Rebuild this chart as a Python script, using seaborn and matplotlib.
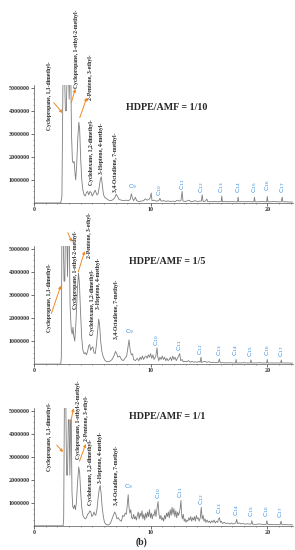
"""
Py-GC/MS chromatograms of HDPE/AMF co-pyrolysis at three blend ratios.
"""

import matplotlib
matplotlib.use('Agg')
import matplotlib.pyplot as plt
import numpy as np
import pandas as pd
import seaborn as sns
from matplotlib.ticker import FixedLocator, FuncFormatter, MultipleLocator

# ---- data (retention time in min, abundance in millions) ----
ratios = ['1/10', '1/5', '1/1']

trace_1_10 = [
    (0.0, 0.0), (2.3, 0.0), (2.4, 0.3), (2.45, 3.0), (2.5, 6.0), (2.6, 6.0), (2.7, 4.0), (2.78, 4.0),
    (2.85, 6.0), (2.95, 6.0), (3.02, 4.5), (3.08, 6.0), (3.15, 6.0), (3.22, 3.0), (3.3, 1.8), (3.38, 1.74),
    (3.45, 1.8), (3.52, 1.3), (3.58, 1.0), (3.66, 1.6), (3.76, 2.8), (3.85, 3.5), (3.92, 3.2), (4.0, 2.0),
    (4.1, 1.0), (4.2, 0.55), (4.3, 0.35), (4.4, 0.3), (4.5, 0.45), (4.6, 0.5), (4.7, 0.35), (4.8, 0.5),
    (4.9, 0.45), (5.0, 0.3), (5.1, 0.4), (5.25, 0.55), (5.4, 0.35), (5.5, 0.4), (5.6, 0.7), (5.7, 1.05),
    (5.78, 1.13), (5.86, 0.8), (5.95, 0.4), (6.05, 0.25), (6.2, 0.2), (6.4, 0.12), (6.6, 0.1), (6.8, 0.15),
    (6.95, 0.25), (7.05, 0.38), (7.15, 0.3), (7.3, 0.15), (7.5, 0.12), (7.7, 0.1), (7.9, 0.12), (8.1, 0.1),
    (8.25, 0.15), (8.35, 0.4), (8.45, 0.2), (8.55, 0.1), (8.7, 0.25), (8.8, 0.1), (9.0, 0.06), (9.2, 0.08),
    (9.4, 0.1), (9.55, 0.18), (9.7, 0.12), (9.85, 0.15), (9.95, 0.2), (10.05, 0.43), (10.12, 0.1),
    (10.3, 0.12), (10.5, 0.08), (10.7, 0.1), (10.8, 0.2), (10.9, 0.08), (11.1, 0.1), (11.3, 0.07),
    (11.5, 0.09), (11.7, 0.06), (11.9, 0.08), (12.1, 0.06), (12.3, 0.12), (12.45, 0.08), (12.6, 0.1),
    (12.7, 0.5), (12.78, 0.08), (12.95, 0.07), (13.1, 0.08), (13.3, 0.12), (13.45, 0.05), (13.6, 0.06),
    (13.8, 0.1), (14.0, 0.06), (14.2, 0.08), (14.35, 0.08), (14.42, 0.35), (14.5, 0.06), (14.7, 0.08),
    (14.82, 0.17), (14.9, 0.05), (15.1, 0.06), (15.3, 0.05), (15.5, 0.07), (15.7, 0.05), (15.9, 0.06),
    (16.05, 0.06), (16.1, 0.3), (16.16, 0.05), (16.4, 0.06), (16.7, 0.05), (17.0, 0.06), (17.3, 0.05),
    (17.45, 0.05), (17.5, 0.25), (17.56, 0.05), (17.8, 0.06), (18.1, 0.05), (18.4, 0.06), (18.6, 0.05),
    (18.85, 0.05), (18.9, 0.25), (18.96, 0.05), (19.2, 0.05), (19.5, 0.06), (19.8, 0.05), (19.95, 0.05),
    (20.0, 0.28), (20.06, 0.05), (20.3, 0.05), (20.6, 0.06), (20.9, 0.05), (21.2, 0.05), (21.28, 0.25),
    (21.34, 0.05), (21.6, 0.05), (21.9, 0.04), (22.2, 0.04),
]

trace_1_5 = [
    (0.0, 0.0), (2.3, 0.0), (2.35, 0.3), (2.4, 6.0), (2.5, 6.0), (2.58, 3.6), (2.65, 3.6), (2.7, 6.0),
    (2.8, 6.0), (2.88, 3.8), (2.95, 6.0), (3.02, 6.0), (3.1, 2.5), (3.2, 1.5), (3.28, 1.3), (3.35, 1.6),
    (3.42, 1.2), (3.5, 1.0), (3.6, 1.8), (3.72, 3.2), (3.82, 3.95), (3.9, 3.5), (4.0, 2.2), (4.1, 1.1),
    (4.2, 0.6), (4.3, 0.45), (4.4, 0.5), (4.5, 0.4), (4.6, 0.55), (4.7, 0.8), (4.78, 0.85), (4.86, 0.6),
    (4.95, 0.7), (5.05, 0.75), (5.15, 0.5), (5.25, 0.45), (5.35, 0.8), (5.45, 1.4), (5.55, 1.95),
    (5.63, 1.7), (5.72, 1.0), (5.82, 0.55), (5.95, 0.3), (6.1, 0.15), (6.3, 0.1), (6.5, 0.12), (6.7, 0.2),
    (6.85, 0.35), (7.0, 0.55), (7.1, 0.45), (7.2, 0.3), (7.35, 0.35), (7.5, 0.2), (7.65, 0.15), (7.8, 0.25),
    (7.95, 0.35), (8.05, 0.7), (8.15, 1.05), (8.25, 0.6), (8.35, 0.4), (8.45, 0.45), (8.55, 0.2),
    (8.7, 0.15), (8.85, 0.25), (9.0, 0.15), (9.1, 0.3), (9.2, 0.2), (9.3, 0.35), (9.4, 0.2), (9.5, 0.3),
    (9.6, 0.35), (9.7, 0.25), (9.8, 0.4), (9.9, 0.3), (10.0, 0.45), (10.1, 0.25), (10.2, 0.4), (10.3, 0.2),
    (10.45, 0.35), (10.55, 0.7), (10.62, 0.3), (10.7, 0.15), (10.8, 0.3), (10.9, 0.2), (11.0, 0.35),
    (11.1, 0.2), (11.2, 0.3), (11.3, 0.15), (11.4, 0.25), (11.5, 0.15), (11.6, 0.2), (11.7, 0.3),
    (11.8, 0.15), (11.9, 0.35), (12.0, 0.2), (12.1, 0.3), (12.2, 0.15), (12.3, 0.25), (12.4, 0.35),
    (12.5, 0.45), (12.58, 0.15), (12.7, 0.2), (12.8, 0.1), (12.95, 0.12), (13.1, 0.1), (13.25, 0.15),
    (13.4, 0.08), (13.55, 0.12), (13.7, 0.08), (13.85, 0.1), (14.0, 0.08), (14.15, 0.12), (14.25, 0.08),
    (14.32, 0.3), (14.38, 0.07), (14.5, 0.1), (14.65, 0.12), (14.8, 0.08), (15.0, 0.1), (15.2, 0.07),
    (15.4, 0.08), (15.6, 0.06), (15.8, 0.07), (15.9, 0.22), (15.96, 0.06), (16.2, 0.06), (16.5, 0.05),
    (16.8, 0.06), (17.1, 0.05), (17.28, 0.05), (17.33, 0.2), (17.38, 0.05), (17.7, 0.05), (18.0, 0.06),
    (18.3, 0.05), (18.55, 0.05), (18.6, 0.18), (18.65, 0.05), (19.0, 0.05), (19.3, 0.06), (19.6, 0.05),
    (19.95, 0.05), (20.0, 0.2), (20.05, 0.05), (20.4, 0.05), (20.8, 0.05), (21.15, 0.05), (21.2, 0.18),
    (21.25, 0.05), (21.6, 0.05), (22.2, 0.04),
]

trace_1_1 = [
    (0.0, 0.0), (2.5, 0.0), (2.55, 0.3), (2.62, 6.0), (2.72, 6.0), (2.8, 2.2), (2.88, 2.2), (2.95, 4.6),
    (3.02, 4.6), (3.08, 2.2), (3.15, 4.6), (3.2, 4.6), (3.26, 1.5), (3.32, 0.85), (3.4, 0.75), (3.48, 0.9),
    (3.56, 0.7), (3.64, 1.0), (3.74, 1.9), (3.84, 2.55), (3.92, 2.3), (4.0, 1.5), (4.1, 0.8), (4.2, 0.45),
    (4.3, 0.35), (4.4, 0.3), (4.5, 0.35), (4.6, 0.5), (4.7, 0.55), (4.8, 0.65), (4.88, 0.6), (4.96, 0.4),
    (5.05, 0.45), (5.15, 0.6), (5.22, 0.5), (5.3, 0.45), (5.4, 0.7), (5.5, 1.2), (5.6, 1.6), (5.68, 1.75),
    (5.76, 1.4), (5.85, 0.8), (5.95, 0.4), (6.05, 0.15), (6.2, 0.05), (6.4, 0.04), (6.55, 0.1), (6.7, 0.3),
    (6.82, 0.45), (6.92, 0.6), (7.02, 0.5), (7.12, 0.3), (7.22, 0.35), (7.35, 0.25), (7.5, 0.2),
    (7.62, 0.45), (7.72, 0.4), (7.82, 0.55), (7.92, 0.5), (8.0, 0.9), (8.08, 1.35), (8.15, 0.8),
    (8.22, 0.55), (8.3, 0.7), (8.38, 0.35), (8.46, 0.3), (8.55, 0.5), (8.62, 0.3), (8.7, 0.4), (8.78, 0.25),
    (8.86, 0.45), (8.94, 0.6), (9.02, 0.3), (9.1, 0.55), (9.18, 0.4), (9.26, 0.65), (9.34, 0.3),
    (9.42, 0.5), (9.5, 0.25), (9.58, 0.55), (9.66, 0.35), (9.74, 0.6), (9.82, 0.4), (9.9, 0.7),
    (9.98, 0.35), (10.06, 0.55), (10.14, 0.3), (10.22, 0.5), (10.3, 0.45), (10.38, 0.7), (10.46, 0.4),
    (10.56, 0.8), (10.64, 1.05), (10.72, 0.5), (10.8, 0.3), (10.88, 0.45), (10.96, 0.25), (11.04, 0.35),
    (11.12, 0.2), (11.2, 0.45), (11.28, 0.3), (11.36, 0.55), (11.44, 0.4), (11.52, 0.6), (11.6, 0.35),
    (11.68, 0.7), (11.76, 0.45), (11.84, 0.8), (11.92, 0.5), (12.0, 0.75), (12.08, 0.4), (12.16, 0.65),
    (12.24, 0.35), (12.32, 0.6), (12.4, 0.45), (12.48, 0.6), (12.54, 0.8), (12.6, 1.1), (12.66, 0.5),
    (12.72, 0.3), (12.8, 0.5), (12.88, 0.2), (12.96, 0.3), (13.04, 0.15), (13.12, 0.25), (13.2, 0.2),
    (13.28, 0.35), (13.36, 0.25), (13.44, 0.4), (13.52, 0.2), (13.6, 0.35), (13.68, 0.25), (13.76, 0.4),
    (13.84, 0.2), (13.92, 0.45), (14.0, 0.3), (14.08, 0.35), (14.16, 0.2), (14.26, 0.35), (14.34, 0.8),
    (14.42, 0.3), (14.5, 0.45), (14.58, 0.2), (14.66, 0.3), (14.74, 0.15), (14.84, 0.25), (14.94, 0.15),
    (15.04, 0.2), (15.14, 0.12), (15.24, 0.22), (15.34, 0.15), (15.44, 0.25), (15.54, 0.12), (15.64, 0.2),
    (15.74, 0.15), (15.82, 0.28), (15.9, 0.35), (15.98, 0.15), (16.06, 0.2), (16.16, 0.1), (16.3, 0.15),
    (16.45, 0.1), (16.6, 0.12), (16.75, 0.08), (16.9, 0.12), (17.05, 0.08), (17.2, 0.1), (17.3, 0.12),
    (17.38, 0.28), (17.45, 0.1), (17.6, 0.12), (17.75, 0.08), (17.9, 0.1), (18.1, 0.07), (18.3, 0.09),
    (18.5, 0.07), (18.62, 0.08), (18.68, 0.22), (18.74, 0.07), (19.0, 0.06), (19.3, 0.08), (19.6, 0.06),
    (19.9, 0.06), (19.97, 0.22), (20.03, 0.06), (20.4, 0.06), (20.8, 0.05), (21.1, 0.05), (21.18, 0.2),
    (21.24, 0.05), (21.6, 0.05), (22.2, 0.04),
]

compounds = ['Cyclopropane, 1,1-dimethyl-', 'Cyclopropane, 1-ethyl-2-methyl-', '2-Pentene, 3-ethyl-',
             'Cyclohexane, 1,2-dimethyl-', '3-Heptene, 4-methyl-', '3,4-Octadiene, 7-methyl-']
alkanes = ['C$_9$', 'C$_{10}$', 'C$_{11}$', 'C$_{12}$', 'C$_{13}$', 'C$_{14}$', 'C$_{15}$', 'C$_{16}$',
           'C$_{17}$']
y_ticks = [1, 2, 3, 4, 5]
x_ticks = [0, 10, 20]

# ---- layout: label anchors (time, bottom in millions) and arrows per panel ----
compound_pos = {
    '1/10': [(1.37, 3.15), (3.68, 5.0), (4.87, 4.48), (4.96, 0.78), (5.8, 1.25), (7.0, 0.48)],
    '1/5': [(1.3, 1.4), (3.6, 2.4), (4.8, 4.6), (5.0, 1.26), (5.55, 2.4), (7.1, 1.1)],
    '1/1': [(1.3, 2.36), (3.85, 2.9), (4.5, 3.67), (4.85, 0.92), (5.7, 1.85), (7.1, 0.9)],
}
alkane_pos = {
    '1/10': [(8.4, 0.5), (10.8, 0.28), (12.7, 0.58), (14.4, 0.43), (16.1, 0.43), (17.5, 0.45),
             (18.9, 0.45), (20.0, 0.5), (21.3, 0.45)],
    '1/5': [(8.15, 1.2), (10.55, 0.8), (12.5, 0.55), (14.3, 0.4), (15.9, 0.35), (17.3, 0.35),
            (18.6, 0.3), (20.0, 0.35), (21.2, 0.3)],
    '1/1': [(8.08, 1.5), (10.64, 1.15), (12.6, 1.2), (14.34, 0.9), (15.9, 0.5), (17.38, 0.42),
            (18.68, 0.38), (19.97, 0.38), (21.18, 0.35)],
}
arrows = {
    '1/10': [((1.7, 4.35), (2.45, 3.9)), ((3.2, 4.35), (3.55, 4.95)), ((3.93, 3.7), (4.53, 4.57))],
    '1/5': [((1.5, 2.2), (2.3, 3.4)), ((2.9, 5.7), (3.25, 5.3)), ((3.8, 4.0), (4.35, 4.9))],
    '1/1': [((1.95, 3.5), (2.5, 3.2)), ((3.15, 4.5), (3.4, 5.1)), ((3.9, 2.8), (4.45, 3.55))],
}
title_y = {'1/10': 4.13, '1/5': 4.43, '1/1': 4.74}
panel_bottoms = [0.631, 0.338, 0.044]
traces = {'1/10': trace_1_10, '1/5': trace_1_5, '1/1': trace_1_1}

sns.set_style('ticks')
plt.rcParams['font.family'] = ['Liberation Serif', 'DejaVu Serif']
plt.rcParams['mathtext.default'] = 'regular'

fig = plt.figure(figsize=(2.95, 5.5), dpi=100)
line_color = '#7d7d7d'
arrow_color = '#f08a24'
alkane_color = '#2f8be0'

for ratio, bottom in zip(ratios, panel_bottoms):
    ax = fig.add_axes([0.115, bottom, 0.878, 0.215])
    df = pd.DataFrame(traces[ratio], columns=['time', 'abundance'])
    sns.lineplot(data=df, x='time', y='abundance', ax=ax, color=line_color,
                 linewidth=0.6, estimator=None, sort=False)
    ax.set_xlim(0, 22.2)
    ax.set_ylim(0, 5.13)
    ax.set_xlabel('')
    ax.set_ylabel('')
    sns.despine(ax=ax)
    for side in ['left', 'bottom']:
        ax.spines[side].set_linewidth(0.5)
        ax.spines[side].set_color('#555555')

    ax.yaxis.set_major_locator(FixedLocator(y_ticks))
    ax.yaxis.set_major_formatter(FuncFormatter(lambda v, p: f'{int(round(v * 1e6))}'))
    ax.yaxis.set_minor_locator(MultipleLocator(0.25))
    ax.xaxis.set_major_locator(FixedLocator(x_ticks))
    ax.xaxis.set_minor_locator(MultipleLocator(1))
    ax.tick_params(axis='both', which='major', labelsize=4.3, length=2, width=0.5,
                   pad=1, colors='#333333')
    ax.tick_params(axis='both', which='minor', length=1, width=0.4, colors='#555555')
    for lab in ax.get_xticklabels() + ax.get_yticklabels():
        lab.set_fontweight('bold')

    ax.text(11.4, title_y[ratio], f'HDPE/AMF = {ratio}', ha='center', va='center',
            fontsize=7.2, fontweight='bold')

    for name, (t, yb) in zip(compounds, compound_pos[ratio]):
        ax.text(t, yb, name, rotation=90, ha='center', va='bottom', fontsize=4.1,
                fontweight='bold', clip_on=False)

    for i, (name, (t, yb)) in enumerate(zip(alkanes, alkane_pos[ratio])):
        ax.text(t, yb, name, rotation=0 if i == 0 else 90, ha='center', va='bottom',
                fontsize=4.5, color=alkane_color, family=['DejaVu Sans'])

    for start, end in arrows[ratio]:
        ax.annotate('', xy=end, xytext=start, annotation_clip=False,
                    arrowprops=dict(arrowstyle='-|>', color=arrow_color, lw=0.7,
                                    mutation_scale=4, shrinkA=0, shrinkB=0))

fig.text(0.478, 0.014, '(b)', ha='center', va='center', fontsize=7, fontweight='bold')

fig.savefig('out.png', dpi=100)
